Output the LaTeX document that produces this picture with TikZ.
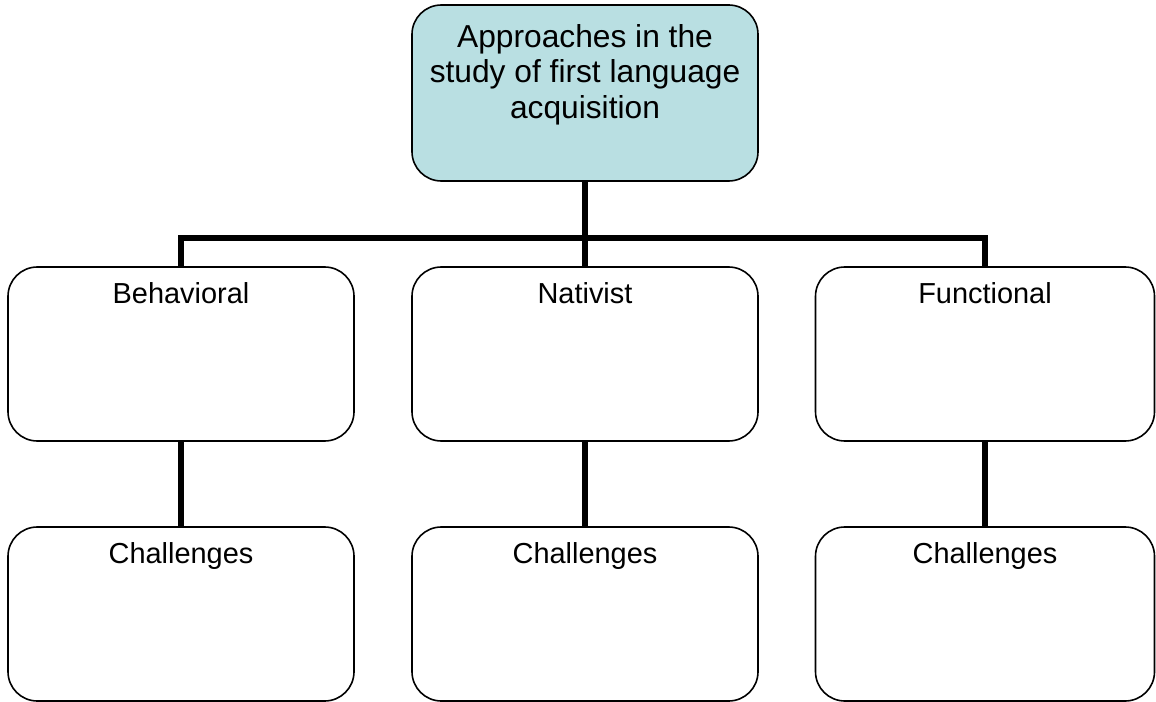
\documentclass[tikz,border=0pt]{standalone}
\usepackage{fontspec}
\setmainfont{Liberation Sans}
\usetikzlibrary{positioning}
\definecolor{topfill}{RGB}{185,223,226}
\tikzset{
  box/.style={draw, line width=1.2pt, rounded corners=22pt, minimum width=259.5pt, minimum height=130.5pt, inner sep=0pt},
  boxtext/.style={anchor=base, yshift=-27.75pt, font=\fontsize{21.7}{26}\selectfont},
  link/.style={line width=3.9pt},
}
\begin{document}
\begin{tikzpicture}[x=0.75pt,y=-0.75pt]
                \useasboundingbox (0,0) rectangle (1156,702);
                \node [box, fill=topfill, minimum height=132pt,
                       label={[anchor=base, yshift=-85.5pt, align=center, font=\fontsize{23.8}{26.6}\selectfont]north:Approaches in the\\study of first language\\acquisition}] (approaches) at (585,93) {};
                \node [box, label={[boxtext]north:Behavioral}] (behavioral) at (181,354) {};
                \node [box, label={[boxtext]north:Nativist}] (nativist) at (585,354) {};
                \node [box, minimum width=254.25pt, label={[boxtext]north:Functional}] (functional) at (985,354) {};
                \node [box, label={[boxtext]north:Challenges}] (chbehav) at (181,614) {};
                \node [box, label={[boxtext]north:Challenges}] (chnativ) at (585,614) {};
                \node [box, minimum width=254.25pt, label={[boxtext]north:Challenges}] (chfunct) at (985,614) {};
                \coordinate (fork) at (585,238);
                \draw [link] (approaches.south) -- (fork) ;
                \draw [link] (fork) -| (behavioral.north) ;
                \draw [link] (fork) -| (functional.north) ;
                \draw [link] (fork) -- (nativist.north) ;
                \draw [link] (behavioral.south) -- (chbehav.north) ;
                \draw [link] (nativist.south) -- (chnativ.north) ;
                \draw [link] (functional.south) -- (chfunct.north) ;
\end{tikzpicture}
\end{document}
